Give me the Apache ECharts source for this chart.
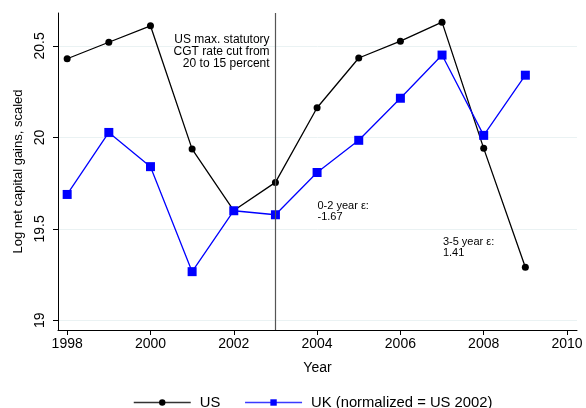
<!DOCTYPE html>
<html><head><meta charset="utf-8">
<script src="https://cdn.jsdelivr.net/npm/echarts@6/dist/echarts.min.js"></script>
<style>html,body{margin:0;padding:0;background:#fff}#c{width:586px;height:408px}</style>
</head><body><div id="c"></div>
<script>
const years = [1998,1999,2000,2001,2002,2003,2004,2005,2006,2007,2008,2009];
const usValues = [20.43,20.52,20.61,19.936,19.60,19.754,20.162,20.434,20.526,20.63,19.94,19.29];
const ukValues = [19.688,20.027,19.84,19.266,19.599,19.577,19.808,19.984,20.214,20.45,20.011,20.34];
const xTicks = [1998,2000,2002,2004,2006,2008,2010];
const yTicks = [19,19.5,20,20.5];
const policyYear = 2003;
const annoPolicy = "US max. statutory\nCGT rate cut from\n20 to 15 percent";
const anno02 = "0-2 year \u03b5:\n-1.67";
const anno35 = "3-5 year \u03b5:\n1.41";

const FONT = '"Liberation Sans", Arial, sans-serif';
const chart = echarts.init(document.getElementById('c'), null, {renderer:'canvas'});
const pair = a => years.map((y,i)=>[y,a[i]]);
chart.setOption({
  animation:false,
  textStyle:{fontFamily:FONT},
  grid:{left:58,right:9,top:13,bottom:78,containLabel:false},
  xAxis:{
    type:'value', min:1997.78, max:2010.24,
    name:'Year', nameLocation:'middle', nameGap:31,
    nameTextStyle:{fontSize:14,color:'#000',fontFamily:FONT},
    axisLine:{show:true,lineStyle:{color:'#000',width:1}},
    axisTick:{show:true,length:5,lineStyle:{color:'#000'},customValues:xTicks},
    axisLabel:{color:'#000',fontSize:14,margin:7,fontFamily:FONT,customValues:xTicks,
      formatter:v=>String(v)},
    splitLine:{show:false}
  },
  yAxis:{
    type:'value', min:18.947, max:20.68,
    name:'Log net capital gains, scaled', nameLocation:'middle', nameGap:33,
    nameTextStyle:{fontSize:13,color:'#000',fontFamily:FONT},
    axisLine:{show:true,lineStyle:{color:'#000',width:1}},
    axisTick:{show:true,length:5,lineStyle:{color:'#000'},customValues:yTicks},
    axisLabel:{color:'#000',fontSize:14,rotate:90,margin:11,fontFamily:FONT,customValues:yTicks,
      formatter:v=>String(v)},
    splitLine:{show:true,lineStyle:{color:'#eaf2f3',width:1}}
  },
  legend:{
    left:133, top:395, padding:0, itemWidth:57, itemHeight:8, itemGap:24,
    textStyle:{fontSize:14.8,color:'#000',fontFamily:FONT,padding:[0,0,0,4]},
    data:[
      {name:'US', itemStyle:{color:'#000'}, lineStyle:{color:'#333',width:1.5}},
      {name:'UK (normalized = US 2002)', itemStyle:{color:'#0000ff'}, lineStyle:{color:'#3a3aff',width:1.5}}
    ]
  },
  series:[
    {name:'US', type:'line', data:pair(usValues), symbol:'circle', symbolSize:7,
     lineStyle:{color:'#000',width:1.3}, itemStyle:{color:'#000'},
     markLine:{silent:true, symbol:'none', label:{show:false},
       lineStyle:{color:'#555',width:1.2,type:'solid'},
       data:[{xAxis:policyYear}]},
     markPoint:{symbol:'circle', symbolSize:0, silent:true,
       data:[
         {coord:[2002.86,20.467], label:{show:true, position:'inside', align:'right', verticalAlign:'middle',
           formatter:annoPolicy, fontSize:12, lineHeight:12, color:'#000', fontFamily:FONT}},
         {coord:[2004.01,19.596], label:{show:true, position:'inside', align:'left', verticalAlign:'middle',
           formatter:anno02, fontSize:11, lineHeight:11, color:'#000', fontFamily:FONT}},
         {coord:[2007.02,19.398], label:{show:true, position:'inside', align:'left', verticalAlign:'middle',
           formatter:anno35, fontSize:11, lineHeight:11, color:'#000', fontFamily:FONT}}
       ]}
    },
    {name:'UK (normalized = US 2002)', type:'line', data:pair(ukValues), symbol:'rect', symbolSize:9,
     lineStyle:{color:'#0000ff',width:1.3}, itemStyle:{color:'#0000ff'}}
  ]
});
</script></body></html>
